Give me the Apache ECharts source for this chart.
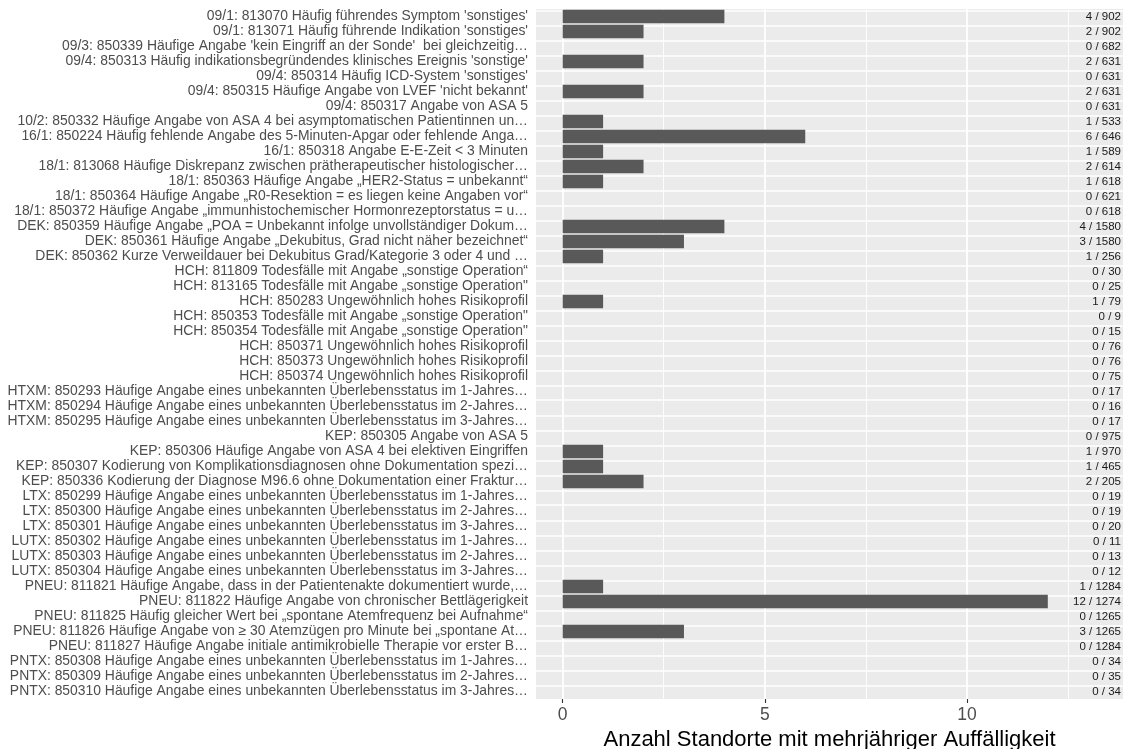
<!DOCTYPE html>
<html>
<head>
<meta charset="utf-8">
<script src="https://cdn.jsdelivr.net/npm/echarts@6/dist/echarts.min.js"></script>
<style>
html,body{margin:0;padding:0;background:#fff;}
#chart{width:1126px;height:749px;}
</style>
</head>
<body>
<div id="chart"></div>
<script>
const categories = [
  "09/1: 813070 Häufig führendes Symptom 'sonstiges'",
  "09/1: 813071 Häufig führende Indikation 'sonstiges'",
  "09/3: 850339 Häufige Angabe 'kein Eingriff an der Sonde'  bei gleichzeitig…",
  "09/4: 850313 Häufig indikationsbegründendes klinisches Ereignis 'sonstige'",
  "09/4: 850314 Häufig ICD-System 'sonstiges'",
  "09/4: 850315 Häufige Angabe von LVEF 'nicht bekannt'",
  "09/4: 850317 Angabe von ASA 5",
  "10/2: 850332 Häufige Angabe von ASA 4 bei asymptomatischen Patientinnen un…",
  "16/1: 850224 Häufig fehlende Angabe des 5-Minuten-Apgar oder fehlende Anga…",
  "16/1: 850318 Angabe E-E-Zeit < 3 Minuten",
  "18/1: 813068 Häufige Diskrepanz zwischen prätherapeutischer histologischer…",
  "18/1: 850363 Häufige Angabe „HER2-Status = unbekannt“",
  "18/1: 850364 Häufige Angabe „R0-Resektion = es liegen keine Angaben vor“",
  "18/1: 850372 Häufige Angabe „immunhistochemischer Hormonrezeptorstatus = u…",
  "DEK: 850359 Häufige Angabe „POA = Unbekannt infolge unvollständiger Dokum…",
  "DEK: 850361 Häufige Angabe „Dekubitus, Grad nicht näher bezeichnet“",
  "DEK: 850362 Kurze Verweildauer bei Dekubitus Grad/Kategorie 3 oder 4 und …",
  "HCH: 811809 Todesfälle mit Angabe „sonstige Operation“",
  "HCH: 813165 Todesfälle mit Angabe „sonstige Operation\"",
  "HCH: 850283 Ungewöhnlich hohes Risikoprofil",
  "HCH: 850353 Todesfälle mit Angabe „sonstige Operation\"",
  "HCH: 850354 Todesfälle mit Angabe „sonstige Operation\"",
  "HCH: 850371 Ungewöhnlich hohes Risikoprofil",
  "HCH: 850373 Ungewöhnlich hohes Risikoprofil",
  "HCH: 850374 Ungewöhnlich hohes Risikoprofil",
  "HTXM: 850293 Häufige Angabe eines unbekannten Überlebensstatus im 1-Jahres…",
  "HTXM: 850294 Häufige Angabe eines unbekannten Überlebensstatus im 2-Jahres…",
  "HTXM: 850295 Häufige Angabe eines unbekannten Überlebensstatus im 3-Jahres…",
  "KEP: 850305 Angabe von ASA 5",
  "KEP: 850306 Häufige Angabe von ASA 4 bei elektiven Eingriffen",
  "KEP: 850307 Kodierung von Komplikationsdiagnosen ohne Dokumentation spezi…",
  "KEP: 850336 Kodierung der Diagnose M96.6 ohne Dokumentation einer Fraktur…",
  "LTX: 850299 Häufige Angabe eines unbekannten Überlebensstatus im 1-Jahres…",
  "LTX: 850300 Häufige Angabe eines unbekannten Überlebensstatus im 2-Jahres…",
  "LTX: 850301 Häufige Angabe eines unbekannten Überlebensstatus im 3-Jahres…",
  "LUTX: 850302 Häufige Angabe eines unbekannten Überlebensstatus im 1-Jahres…",
  "LUTX: 850303 Häufige Angabe eines unbekannten Überlebensstatus im 2-Jahres…",
  "LUTX: 850304 Häufige Angabe eines unbekannten Überlebensstatus im 3-Jahres…",
  "PNEU: 811821 Häufige Angabe, dass in der Patientenakte dokumentiert wurde,…",
  "PNEU: 811822 Häufige Angabe von chronischer Bettlägerigkeit",
  "PNEU: 811825 Häufig gleicher Wert bei „spontane Atemfrequenz bei Aufnahme“",
  "PNEU: 811826 Häufige Angabe von ≥ 30 Atemzügen pro Minute bei „spontane At…",
  "PNEU: 811827 Häufige Angabe initiale antimikrobielle Therapie vor erster B…",
  "PNTX: 850308 Häufige Angabe eines unbekannten Überlebensstatus im 1-Jahres…",
  "PNTX: 850309 Häufige Angabe eines unbekannten Überlebensstatus im 2-Jahres…",
  "PNTX: 850310 Häufige Angabe eines unbekannten Überlebensstatus im 3-Jahres…"
];
const values = [4,2,0,2,0,2,0,1,6,1,2,1,0,0,4,3,1,0,0,1,0,0,0,0,0,0,0,0,0,1,1,2,0,0,0,0,0,0,1,12,0,3,0,0,0,0];
const totals = [902,902,682,631,631,631,631,533,646,589,614,618,621,618,1580,1580,256,30,25,79,9,15,76,76,75,17,16,17,975,970,465,205,19,19,20,11,13,12,1284,1274,1265,1265,1284,34,35,34];
const xTicks = [0, 5, 10];
const xMinorTicks = [2.5, 7.5, 12.5];
const xLimits = [-0.66, 13.86];
const axisTitle = "Anzahl Standorte mit mehrjähriger Auffälligkeit";

const ratioLabels = values.map((v, i) => v + " / " + totals[i]);
const FONT = "'Liberation Sans', Arial, sans-serif";

const chart = echarts.init(document.getElementById('chart'), null, {renderer: 'canvas'});
chart.setOption({
  animation: false,
  backgroundColor: '#ffffff',
  grid: {
    left: 536, right: 3, top: 9, bottom: 50,
    outerBoundsMode: 'none',
    containLabel: false,
    show: true, backgroundColor: '#EBEBEB', borderWidth: 0
  },
  xAxis: {
    type: 'value',
    min: xLimits[0], max: xLimits[1],
    axisLine: {show: false},
    splitLine: {show: false},
    axisTick: {show: true, customValues: xTicks, length: 4, lineStyle: {color: '#333333', width: 1.1}},
    axisLabel: {customValues: xTicks, margin: 7, fontSize: 17.5, color: '#4D4D4D', fontFamily: FONT},
    name: axisTitle,
    nameLocation: 'middle',
    nameGap: 24,
    nameTextStyle: {fontSize: 22, color: '#000000', fontFamily: FONT}
  },
  yAxis: [{
    type: 'category',
    data: categories,
    inverse: true,
    axisLine: {show: false},
    axisTick: {show: false},
    splitLine: {show: false},
    axisLabel: {margin: 8, fontSize: 13.9, color: '#4D4D4D', fontFamily: FONT, interval: 0}
  }, {
    type: 'category',
    data: ratioLabels,
    inverse: true,
    position: 'right',
    axisLine: {show: false},
    axisTick: {show: false},
    splitLine: {show: false},
    axisLabel: {inside: true, margin: 2, fontSize: 11.5, color: '#1A1A1A', fontFamily: FONT, interval: 0}
  }],
  series: [{
    type: 'bar',
    name: 'grid',
    data: [],
    z: 1,
    silent: true,
    markLine: {
      z: 1,
      silent: true,
      symbol: 'none',
      label: {show: false},
      animation: false,
      data: [].concat(
        categories.map(c => ({yAxis: c, lineStyle: {color: '#ffffff', width: 1.5, type: 'solid'}})),
        xTicks.map(v => ({xAxis: v, lineStyle: {color: '#ffffff', width: 1.8, type: 'solid'}})),
        xMinorTicks.map(v => ({xAxis: v, lineStyle: {color: '#ffffff', width: 0.9, type: 'solid'}}))
      )
    }
  }, {
    type: 'bar',
    name: 'values',
    data: values,
    z: 3,
    barWidth: '90%',
    barGap: '-100%',
    itemStyle: {color: '#595959'},
    silent: true
  }]
});
</script>
</body>
</html>
